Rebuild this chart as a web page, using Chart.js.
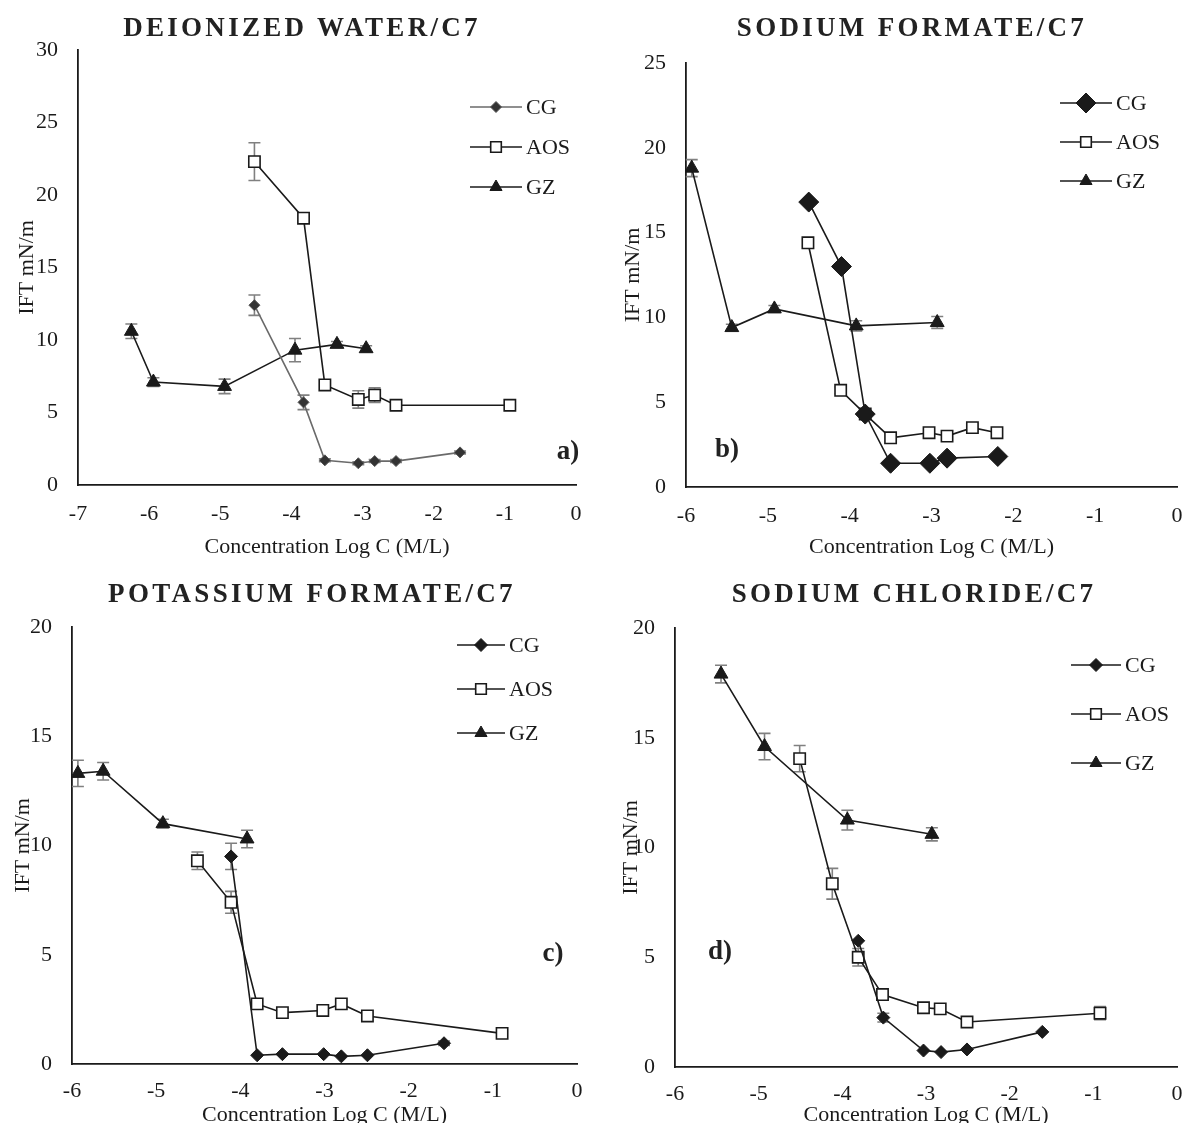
<!DOCTYPE html>
<html>
<head>
<meta charset="utf-8">
<script src="https://cdn.jsdelivr.net/npm/chart.js@4.4.1/dist/chart.umd.min.js"></script>
<style>
  body { margin: 0; background: #fff; }
  #page { position: relative; width: 1188px; height: 1123px; overflow: hidden; background: #fff; }
  canvas { position: absolute; }
  .ttl { position: absolute; transform: translate(-50%, -50%); font: bold 27px 'Liberation Serif', 'Times New Roman', serif;
         letter-spacing: 3.3px; color: #222; white-space: nowrap; }
  .tag { position: absolute; transform: translate(-50%, -50%); font: bold 27px 'Liberation Serif', 'Times New Roman', serif; color: #222; }
</style>
</head>
<body>
<div id="page">
  <canvas id="chartA" width="594" height="560" style="left:0;top:0"></canvas>
  <canvas id="chartB" width="594" height="560" style="left:594px;top:0"></canvas>
  <canvas id="chartC" width="594" height="568" style="left:0;top:560px"></canvas>
  <canvas id="chartD" width="594" height="568" style="left:594px;top:560px"></canvas>
  <div class="ttl" style="left:302px;top:27px">DEIONIZED WATER/C7</div>
  <div class="ttl" style="left:912px;top:27px">SODIUM FORMATE/C7</div>
  <div class="ttl" style="left:312px;top:593px">POTASSIUM FORMATE/C7</div>
  <div class="ttl" style="left:914px;top:593px">SODIUM CHLORIDE/C7</div>
  <div class="tag" style="left:568px;top:450px">a)</div>
  <div class="tag" style="left:727px;top:448px">b)</div>
  <div class="tag" style="left:553px;top:952px">c)</div>
  <div class="tag" style="left:720px;top:950px">d)</div>
</div>
<script>
// a) deionized water
const waterCgX = [-4.52, -3.83, -3.53, -3.06, -2.83, -2.53, -1.63];
const waterCgY = [12.4, 5.7, 1.7, 1.5, 1.65, 1.65, 2.25];
const waterCgErr = [0.7, 0.5, 0.1, 0.1, 0.1, 0.1, 0.1];
const waterAosX = [-4.52, -3.83, -3.53, -3.06, -2.83, -2.53, -0.93];
const waterAosY = [22.3, 18.4, 6.9, 5.9, 6.2, 5.5, 5.5];
const waterAosErr = [1.3, 0, 0, 0.6, 0.5, 0, 0];
const waterGzX = [-6.25, -5.94, -4.94, -3.95, -3.36, -2.95];
const waterGzY = [10.6, 7.1, 6.8, 9.3, 9.7, 9.4];
const waterGzErr = [0.5, 0.3, 0.5, 0.8, 0.2, 0.2];

// b) sodium formate
const formCgX = [-4.50, -4.10, -3.81, -3.50, -3.02, -2.81, -2.19];
const formCgY = [16.8, 13.0, 4.3, 1.4, 1.4, 1.7, 1.8];
const formCgErr = [0, 0.2, 0, 0, 0, 0, 0];
const formAosX = [-4.51, -4.11, -3.81, -3.50, -3.03, -2.81, -2.50, -2.20];
const formAosY = [14.4, 5.7, 4.3, 2.9, 3.2, 3.0, 3.5, 3.2];
const formAosErr = [0.2, 0.2, 0, 0, 0, 0, 0, 0];
const formGzX = [-5.93, -5.44, -4.92, -3.92, -2.93];
const formGzY = [18.8, 9.4, 10.5, 9.5, 9.7];
const formGzErr = [0.5, 0.2, 0.2, 0.3, 0.35];

// c) potassium formate
const kCgX = [-4.11, -3.80, -3.50, -3.01, -2.80, -2.49, -1.58];
const kCgY = [9.5, 0.4, 0.45, 0.45, 0.35, 0.4, 0.95];
const kCgErr = [0.6, 0, 0, 0, 0, 0, 0.1];
const kAosX = [-4.51, -4.11, -3.80, -3.50, -3.02, -2.80, -2.49, -0.89];
const kAosY = [9.3, 7.4, 2.75, 2.35, 2.45, 2.75, 2.2, 1.4];
const kAosErr = [0.4, 0.5, 0, 0, 0, 0, 0, 0];
const kGzX = [-5.93, -5.63, -4.92, -3.92];
const kGzY = [13.3, 13.4, 11.0, 10.3];
const kGzErr = [0.6, 0.4, 0.2, 0.4];

// d) sodium chloride
const naclCgX = [-3.81, -3.51, -3.03, -2.82, -2.51, -1.61];
const naclCgY = [5.75, 2.25, 0.75, 0.68, 0.8, 1.6];
const naclCgErr = [0, 0.2, 0, 0, 0, 0];
const naclAosX = [-4.51, -4.12, -3.81, -3.52, -3.03, -2.83, -2.51, -0.92];
const naclAosY = [14.05, 8.35, 5.0, 3.3, 2.7, 2.65, 2.05, 2.45];
const naclAosErr = [0.6, 0.7, 0.4, 0, 0, 0, 0, 0.3];
const naclGzX = [-5.45, -4.93, -3.94, -2.93];
const naclGzY = [17.9, 14.6, 11.25, 10.6];
const naclGzErr = [0.4, 0.6, 0.45, 0.3];

const seriesNames = ['CG', 'AOS', 'GZ'];
const xTitle = 'Concentration Log C (M/L)';
const yTitle = 'IFT mN/m';

const FONT = "'Liberation Serif', 'Times New Roman', serif";
const INK = '#1a1a1a';
const ERR = '#808080';

function pts(xs, ys) {
  return xs.map((x, i) => ({ x: x, y: ys[i] }));
}

// vertical error bars with caps, drawn under the markers
const errorBars = {
  id: 'errorBars',
  beforeDatasetsDraw(chart) {
    const ctx = chart.ctx, ys = chart.scales.y;
    ctx.save();
    ctx.strokeStyle = ERR;
    ctx.lineWidth = 1.6;
    chart.data.datasets.forEach((ds, i) => {
      const meta = chart.getDatasetMeta(i);
      (ds.err || []).forEach((e, j) => {
        if (!e) return;
        const px = meta.data[j].x;
        const top = ys.getPixelForValue(ds.data[j].y + e);
        const bot = ys.getPixelForValue(ds.data[j].y - e);
        ctx.beginPath();
        ctx.moveTo(px, top); ctx.lineTo(px, bot);
        ctx.moveTo(px - 6, top); ctx.lineTo(px + 6, top);
        ctx.moveTo(px - 6, bot); ctx.lineTo(px + 6, bot);
        ctx.stroke();
      });
    });
    ctx.restore();
  }
};

// legend: short line with the marker on it, text to the right
const lineLegend = {
  id: 'lineLegend',
  afterDatasetsDraw(chart, args, opts) {
    const ctx = chart.ctx;
    ctx.save();
    chart.data.datasets.forEach((ds, i) => {
      const y = opts.y + i * opts.gap;
      ctx.strokeStyle = ds.borderColor;
      ctx.lineWidth = ds.borderWidth;
      ctx.beginPath();
      ctx.moveTo(opts.x, y); ctx.lineTo(opts.x + opts.len, y);
      ctx.stroke();
      ctx.fillStyle = ds.pointBackgroundColor;
      ctx.strokeStyle = ds.pointBorderColor;
      ctx.lineWidth = ds.pointBorderWidth;
      Chart.helpers.drawPoint(ctx, { pointStyle: ds.pointStyle, radius: ds.legendRadius || ds.pointRadius, rotation: 0, borderWidth: ds.pointBorderWidth }, opts.x + opts.len / 2, y);
      ctx.fillStyle = INK;
      ctx.font = '22px ' + FONT;
      ctx.textBaseline = 'middle';
      ctx.fillText(ds.label, opts.x + opts.len + 4, y + 1);
    });
    ctx.restore();
  }
};

function cgSet(xs, ys, err, r, col, pcol) {
  return { label: seriesNames[0], data: pts(xs, ys), err: err, showLine: true,
    borderColor: col, borderWidth: 1.6, pointStyle: 'rectRot', pointRadius: r,
    pointBackgroundColor: pcol, pointBorderColor: col === INK ? INK : '#555', pointBorderWidth: 1 };
}
function aosSet(xs, ys, err) {
  return { label: seriesNames[1], data: pts(xs, ys), err: err, showLine: true,
    borderColor: INK, borderWidth: 1.6, pointStyle: 'rect', pointRadius: 8,
    pointBackgroundColor: '#fff', pointBorderColor: INK, pointBorderWidth: 1.6, legendRadius: 7.5 };
}
function gzSet(xs, ys, err) {
  return { label: seriesNames[2], data: pts(xs, ys), err: err, showLine: true,
    borderColor: INK, borderWidth: 1.6, pointStyle: 'triangle', pointRadius: 8,
    pointBackgroundColor: INK, pointBorderColor: INK, pointBorderWidth: 1, legendRadius: 7 };
}

function makePanel(id, p) {
  const H = document.getElementById(id).height;
  new Chart(document.getElementById(id), {
    type: 'scatter',
    data: { datasets: p.datasets },
    plugins: [errorBars, lineLegend],
    options: {
      responsive: false,
      animation: false,
      devicePixelRatio: 1,
      layout: { padding: { left: p.padL, top: p.top, right: p.padR, bottom: 0 } },
      plugins: {
        legend: { display: false },
        tooltip: { enabled: false },
        lineLegend: p.legend
      },
      scales: {
        x: {
          type: 'linear', min: p.xMin, max: 0,
          ticks: { stepSize: 1, padding: p.tickPad, color: INK, font: { family: FONT, size: 22 } },
          grid: { display: false, drawTicks: false },
          border: { display: true, color: INK, width: 1.8 },
          title: { display: true, text: xTitle, color: INK, font: { family: FONT, size: 22 }, padding: { top: 0, bottom: 0 } },
          afterFit: s => { s.height = H - p.bottom; s.paddingLeft = 0; s.paddingRight = 0; }
        },
        y: {
          type: 'linear', min: 0, max: p.yMax,
          ticks: { stepSize: 5, padding: 20, color: INK, font: { family: FONT, size: 22 } },
          grid: { display: false, drawTicks: false },
          border: { display: true, color: INK, width: 1.8 },
          title: { display: true, text: yTitle, color: INK, font: { family: FONT, size: 22 }, padding: { top: 4, bottom: 0 } },
          afterFit: s => { s.width = p.left - p.padL; }
        }
      }
    }
  });
}

makePanel('chartA', {
  left: 78, top: 50, bottom: 485, padL: 10, padR: 18, tickPad: 16, xMin: -7, yMax: 30,
  legend: { x: 470, y: 107, gap: 40, len: 52 },
  datasets: [
    cgSet(waterCgX, waterCgY, waterCgErr, 5.5, '#6a6a6a', '#333'),
    aosSet(waterAosX, waterAosY, waterAosErr),
    gzSet(waterGzX, waterGzY, waterGzErr)
  ]
});
makePanel('chartB', {
  left: 92, top: 63, bottom: 487, padL: 22, padR: 6, tickPad: 16, xMin: -6, yMax: 25,
  legend: { x: 466, y: 103, gap: 39, len: 52 },
  datasets: [
    cgSet(formCgX, formCgY, formCgErr, 10, INK, INK),
    aosSet(formAosX, formAosY, formAosErr),
    gzSet(formGzX, formGzY, formGzErr)
  ]
});
makePanel('chartC', {
  left: 72, top: 67, bottom: 504, padL: 6, padR: 17, tickPad: 14, xMin: -6, yMax: 20,
  legend: { x: 457, y: 85, gap: 44, len: 48 },
  datasets: [
    cgSet(kCgX, kCgY, kCgErr, 6.5, INK, INK),
    aosSet(kAosX, kAosY, kAosErr),
    gzSet(kGzX, kGzY, kGzErr)
  ]
});
makePanel('chartD', {
  left: 81, top: 68, bottom: 507, padL: 20, padR: 11, tickPad: 14, xMin: -6, yMax: 20,
  legend: { x: 477, y: 105, gap: 49, len: 50 },
  datasets: [
    cgSet(naclCgX, naclCgY, naclCgErr, 6.5, INK, INK),
    aosSet(naclAosX, naclAosY, naclAosErr),
    gzSet(naclGzX, naclGzY, naclGzErr)
  ]
});
</script>
</body>
</html>
